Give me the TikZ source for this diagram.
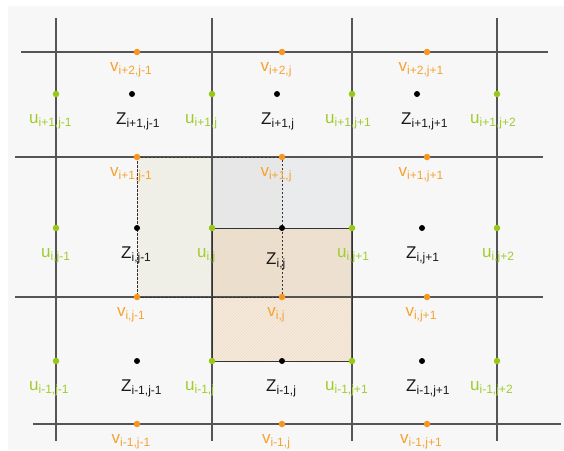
\documentclass[tikz,border=0pt]{standalone}
\usepackage{fontspec}
\setmainfont{Liberation Sans}
\usepackage{tikz}
\usetikzlibrary{patterns,backgrounds,calc}
\definecolor{bggray}{RGB}{247,247,247}
\definecolor{gridgray}{RGB}{85,85,85}
\definecolor{vorange}{RGB}{246,150,32}
\definecolor{vtext}{RGB}{245,162,50}
\definecolor{ugreen}{RGB}{150,200,20}
\definecolor{utext}{RGB}{160,204,45}
\definecolor{zblack}{RGB}{25,25,25}
\definecolor{ucvfill}{RGB}{243,242,235}
\definecolor{ucvhatch}{RGB}{236,234,223}
\definecolor{zcellfill}{RGB}{215,219,224}
\definecolor{zcellhatch}{RGB}{227,229,232}
\definecolor{vcvfill}{RGB}{243,205,160}
\definecolor{vcvhatch}{RGB}{238,221,200}
\tikzstyle{gridline} = [draw=gridgray, line width=1.3pt]
\tikzstyle{vdot} = [circle, fill=vorange, inner sep=0pt, minimum size=6.5pt]
\tikzstyle{udot} = [circle, fill=ugreen, inner sep=0pt, minimum size=6.5pt]
\tikzstyle{zdot} = [circle, fill=black, inner sep=0pt, minimum size=6pt]
\tikzstyle{lbl} = [inner sep=0pt, font=\fontsize{17}{20}\selectfont]
\tikzstyle{vlabel} = [lbl, text=vtext, anchor=base]
\tikzstyle{ulabel} = [lbl, text=utext, anchor=base west]
\tikzstyle{zlabel} = [lbl, text=zblack, anchor=base west]
\tikzstyle{cvborder} = [draw=black!80, line width=0.8pt, dash pattern=on 2.5pt off 1.5pt]
\newcommand{\idxlabel}[2]{#1\raisebox{-3pt}{\fontsize{12}{12}\selectfont #2}}

\begin{document}
\begin{tikzpicture}[x=1pt, y=-1pt]
    \useasboundingbox (0,0) rectangle (564,450);

    % v points on the horizontal lines
    \foreach \r/\y/\ri in {0/52/i+2, 1/157/i+1, 2/297/i, 3/424/i-1} {
        \foreach \c/\x/\cj in {0/137/j-1, 1/282/j, 2/427/j+1} {
            \node[vdot] (v\r\c) at (\x,\y) {};
            \node[vlabel] (lv\r\c) at ([shift={(-6,19)}]v\r\c) {\idxlabel{v}{\ri,\cj}};
        }
    }

    % u points on the vertical lines
    \foreach \r/\y/\ri/\dx in {0/94/i+1/-27, 1/228/i/-15, 2/361/i-1/-27} {
        \foreach \c/\x/\cj in {0/56/j-1, 1/212/j, 2/352/j+1, 3/497/j+2} {
            \node[udot] (u\r\c) at (\x,\y) {};
            \node[ulabel] (lu\r\c) at ([shift={(\dx,29)}]u\r\c) {\idxlabel{u}{\ri,\cj}};
        }
    }

    % Z points in the cells
    \foreach \r/\y/\ri/\sx in {0/94/i+1/-5, 1/228/i/0, 2/361/i-1/0} {
        \foreach \c/\x/\cj in {0/137/j-1, 1/282/j, 2/422/j+1} {
            \pgfmathsetmacro{\dy}{(\r==1 && \c==1) ? 36 : 30}
            \node[zdot] (z\r\c) at (\x+\sx,\y) {};
            \node[zlabel] (lz\r\c) at ([shift={(-16,\dy)}]z\r\c) {\idxlabel{Z}{\ri,\cj}};
        }
    }

    % control volumes and grid behind the points
    \begin{scope}[on background layer]
        \fill[bggray] (8,6) rectangle (564,450);
        \fill[ucvfill] (v10.center) rectangle (v21.center);
        \fill[pattern=north east lines, pattern color=ucvhatch] (v10.center) rectangle (v21.center);
        \fill[zcellfill, fill opacity=0.3] (u11.center |- v11.center) rectangle (u12.center |- v21.center);
        \fill[pattern=north east lines, pattern color=zcellhatch] (u11.center |- v11.center) rectangle (u12.center |- v21.center);
        \fill[vcvfill, fill opacity=0.3] (u11.center) rectangle (u22.center);
        \fill[pattern=north east lines, pattern color=vcvhatch] (u11.center) rectangle (u22.center);

        % grid
        \foreach \x in {56,212,352,497}
            \draw[gridline] (\x,18) -- (\x,441);
        \foreach \y/\xa/\xb in {52/21/548, 157/15/543, 297/15/543, 424/33/561}
            \draw[gridline] (\xa,\y) -- (\xb,\y);

        % borders
        \draw[cvborder] (v10.center) rectangle (v21.center);
        \draw[black!80, line width=0.8pt] (u11.center) rectangle (u22.center);
    \end{scope}
\end{tikzpicture}
\end{document}
